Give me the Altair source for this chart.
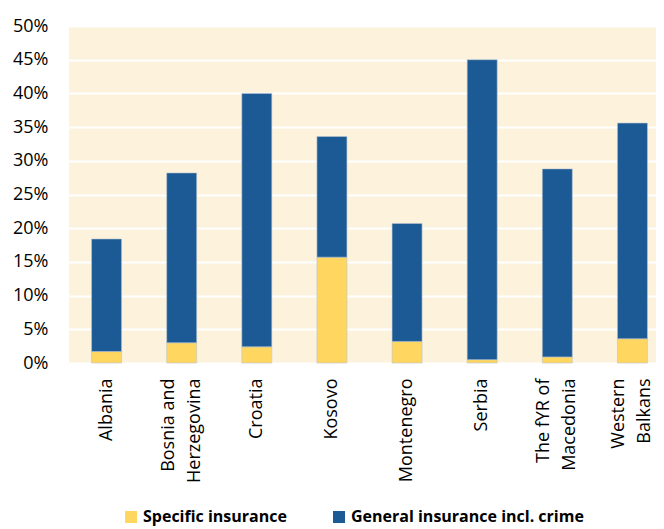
import altair as alt
import pandas as pd

categories = ["Albania", "Bosnia and|Herzegovina", "Croatia", "Kosovo", "Montenegro",
              "Serbia", "The fYR of|Macedonia", "Western|Balkans"]
specific = [1.7, 3.0, 2.4, 15.7, 3.2, 0.5, 0.9, 3.6]
general = [16.7, 25.2, 37.6, 17.9, 17.5, 44.5, 27.9, 32.0]
series = ["Specific insurance", "General insurance incl. crime"]
colors = ["#FFD65F", "#1B5A94"]
y_ticks = [0, 5, 10, 15, 20, 25, 30, 35, 40, 45, 50]

rows = []
for c, s, g in zip(categories, specific, general):
    rows.append({"cat": c, "series": series[0], "value": s, "ord": 0})
    rows.append({"cat": c, "series": series[1], "value": g, "ord": 1})
df = pd.DataFrame(rows)

multi_offset = {"condition": {"test": "indexof(datum.value, '|') >= 0", "value": -13},
                "value": 0}

chart = alt.Chart(df).mark_bar(size=30, stroke="#b8c4d0", strokeWidth=0.6).encode(
    x=alt.X("cat:N", sort=categories, title=None,
            scale=alt.Scale(paddingInner=0, paddingOuter=0, range=[0, 601]),
            axis=alt.Axis(labelAngle=-90, labelExpr="split(datum.label, '|')",
                          ticks=False, domain=False, labelPadding=15,
                          labelOffset=multi_offset,
                          labelFont="Open Sans", labelFontSize=18, labelColor="#000",
                          labelLineHeight=26, labelBaseline="middle", labelAlign="right")),
    y=alt.Y("value:Q", stack="zero", title=None,
            scale=alt.Scale(domain=[0, 50], nice=False),
            axis=alt.Axis(values=y_ticks, labelExpr="datum.value + '%'", ticks=False,
                          domain=False, labelPadding=21, labelFont="Open Sans",
                          labelFontSize=18, labelColor="#000",
                          grid=True, gridColor="#ffffff", gridWidth=2)),
    color=alt.Color("series:N", scale=alt.Scale(domain=series, range=colors),
                    legend=alt.Legend(title=None, orient="none", direction="horizontal",
                                      legendX=54, legendY=483, symbolType="square",
                                      symbolSize=144, symbolStrokeWidth=0,
                                      labelFont="Open Sans", labelFontWeight="bold",
                                      labelFontSize=16, labelColor="#000", labelLimit=0,
                                      labelOffset=4, columnPadding=44, padding=0)),
    order=alt.Order("ord:Q"),
).properties(
    width=587, height=337,
    autosize=alt.AutoSizeParams(type="none"),
    padding={"left": 61, "top": 18, "right": 0, "bottom": 170},
).configure_view(fill="#FDF3DD", stroke=None)

chart.save("out.html", embed_options={"renderer": "svg", "actions": False})
